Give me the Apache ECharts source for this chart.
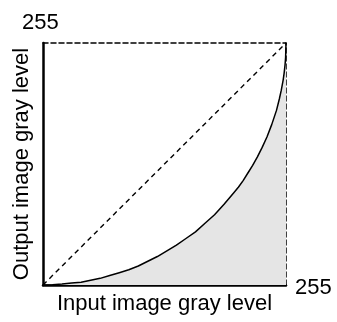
<!DOCTYPE html>
<html>
<head>
<meta charset="utf-8">
<script src="https://cdn.jsdelivr.net/npm/echarts@6/dist/echarts.min.js"></script>
<style>html,body{margin:0;padding:0;background:#fff}#c{width:337px;height:322px}</style>
</head>
<body>
<div id="c"></div>
<script>
// Input gray level (x) and output gray level (y)
const inputLevels  = [0, 10, 20, 30, 40, 50, 60, 70, 80, 90, 100, 110, 120, 130, 140, 150, 160, 170, 180, 190, 200, 205, 210, 215, 220, 225, 230, 235, 240, 245, 248, 250, 252, 253, 254, 254.6, 255];
const outputLevels = [0, 0.2, 1, 2, 3, 5, 7, 10, 13, 16, 20, 25, 30, 36, 42, 49, 56, 65, 74, 85, 97, 103, 110, 118, 126, 135, 145, 156, 169, 184, 196, 205, 216, 223, 232, 240, 255];
const identityX = [0, 255];
const identityY = [0, 255];
const maxLevel = 255;
const xTitle = 'Input image gray level';
const yTitle = 'Output image gray level';

const FONT = '"Liberation Sans", Arial, sans-serif';
const curve = inputLevels.map((x, i) => [x, outputLevels[i]]);
const diag = identityX.map((x, i) => [x, identityY[i]]);

const chart = echarts.init(document.getElementById('c'), null, {renderer: 'canvas'});
chart.setOption({
  animation: false,
  backgroundColor: '#fff',
  grid: {left: 43, top: 43, width: 243, height: 242, containLabel: false},
  xAxis: [
    {type: 'value', min: 0, max: maxLevel, position: 'bottom',
     axisLine: {show: true, onZero: false, lineStyle: {color: '#000', width: 2.5}},
     axisTick: {show: false}, axisLabel: {show: false}, splitLine: {show: false},
     name: xTitle, nameLocation: 'middle', nameGap: 8,
     nameTextStyle: {fontFamily: FONT, fontSize: 22, color: '#000'}},
    {type: 'value', min: 0, max: maxLevel, position: 'top',
     axisLine: {show: true, onZero: false, lineStyle: {color: '#000', width: 1.5, type: [5, 3]}},
     axisTick: {show: false}, axisLabel: {show: false}, splitLine: {show: false}}
  ],
  yAxis: [
    {type: 'value', min: 0, max: maxLevel, position: 'left',
     axisLine: {show: true, onZero: false, lineStyle: {color: '#000', width: 2.5}},
     axisTick: {show: false}, axisLabel: {show: false}, splitLine: {show: false},
     name: yTitle, nameLocation: 'middle', nameGap: 10,
     nameTextStyle: {fontFamily: FONT, fontSize: 22, color: '#000'}},
    {type: 'value', min: 0, max: maxLevel, position: 'right',
     axisLine: {show: true, onZero: false, lineStyle: {color: '#000', width: 1.5, type: [5, 3]}},
     axisTick: {show: false}, axisLabel: {show: false}, splitLine: {show: false}}
  ],
  graphic: [
    {type: 'text', left: 22, top: 12,
     style: {text: String(maxLevel), font: '22px ' + FONT, fill: '#000'}},
    {type: 'text', left: 295, top: 277,
     style: {text: String(maxLevel), font: '22px ' + FONT, fill: '#000'}}
  ],
  series: [
    {type: 'line', data: curve, showSymbol: false, smooth: false,
     lineStyle: {color: '#000', width: 1.5},
     areaStyle: {color: '#e5e5e5', opacity: 1}, z: 2},
    {type: 'line', data: diag, showSymbol: false,
     lineStyle: {color: '#000', width: 1.4, type: [5, 4]}, z: 3}
  ]
});
</script>
</body>
</html>
